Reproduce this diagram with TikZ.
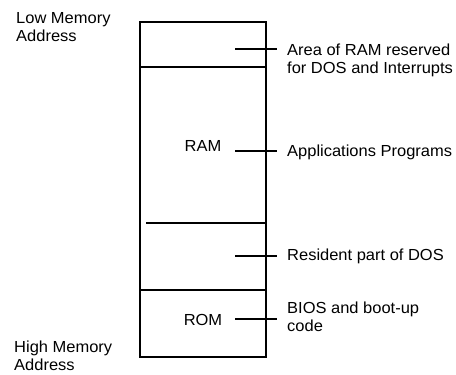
\documentclass[tikz,border=0pt]{standalone}
\usepackage{fontspec}
\setmainfont{Liberation Sans}[FakeStretch=1.03]
\begin{document}
\begin{tikzpicture}[x=1pt,y=-1pt,
  lbl/.style={font=\fontsize{16}{18}\selectfont, inner sep=0pt, align=left, anchor=west},
  clbl/.style={font=\fontsize{16}{18}\selectfont, inner sep=0pt},
  frame/.style={line width=1.3pt},
  sep/.style={line width=1.8pt},
  tick/.style={line width=2pt}]
\useasboundingbox (0,0) rectangle (456,375);
% memory box
\draw[frame] (140,22) rectangle (266,357);
\draw[sep] (140,67) -- (266,67);
\draw[sep] (146,223) -- (266,223);
\draw[sep] (140,290) -- (266,290);
% address labels
\node[lbl] (low) at (16,27) {Low Memory\\Address};
\node[lbl] (high) at (14,356) {High Memory\\Address};
% inner labels
\node[clbl] (ram) at (203,146) {RAM};
\node[clbl] (rom) at (203,320) {ROM};
% right labels
\node[lbl] (area) at (287,60) {Area of RAM reserved\\for DOS and Interrupts};
\node[lbl] (apps) at (287,152) {Applications Programs};
\node[lbl] (res) at (287,256) {Resident part of DOS};
\node[lbl] (bios) at (287,317) {BIOS and boot-up\\code};
% ticks
\coordinate (t1a) at (235,49); \coordinate (t1b) at (277,49);
\coordinate (t2a) at (235,151); \coordinate (t2b) at (277,151);
\coordinate (t3a) at (235,256); \coordinate (t3b) at (277,256);
\coordinate (t4a) at (235,319); \coordinate (t4b) at (277,319);
\draw[tick] (t1a) -- (t1b);
\draw[tick] (t2a) -- (t2b);
\draw[tick] (t3a) -- (t3b);
\draw[tick] (t4a) -- (t4b);
\end{tikzpicture}
\end{document}
